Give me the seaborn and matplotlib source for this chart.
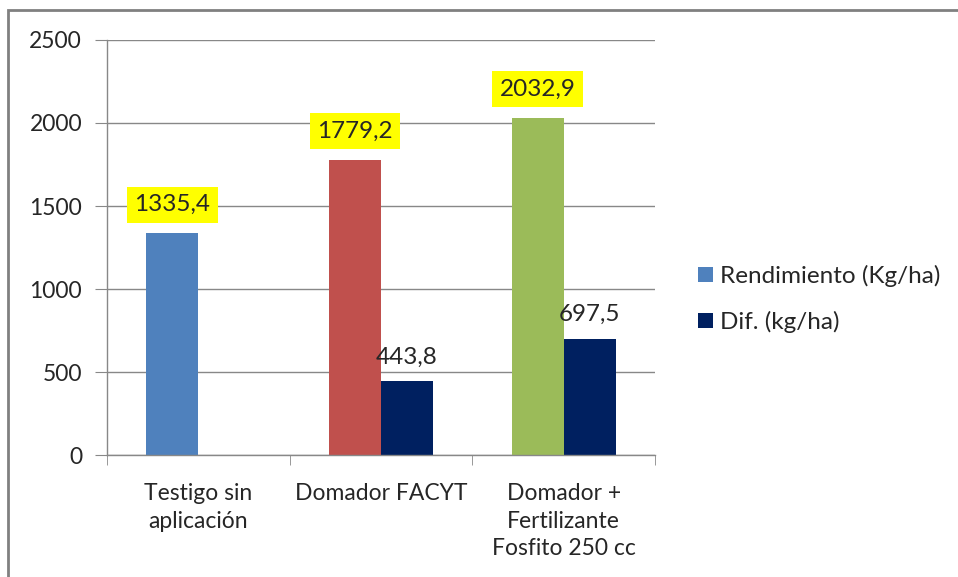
import pandas as pd
import matplotlib.pyplot as plt
import seaborn as sns
from matplotlib.patches import Rectangle

# data
categorias = ["Testigo sin\naplicación", "Domador FACYT", "Domador +\nFertilizante\nFosfito 250 cc"]
rendimiento = [1335.4, 1779.2, 2032.9]
diferencia = [0.0, 443.8, 697.5]
series = ["Rendimiento (Kg/ha)", "Dif. (kg/ha)"]

colores_rend = ["#4F81BD", "#C0504D", "#9BBB59"]
color_dif = "#002060"

df = pd.DataFrame({
    "categoria": categorias * 2,
    "serie": [series[0]] * 3 + [series[1]] * 3,
    "valor": rendimiento + diferencia,
})

sns.set_style("white")
plt.rcParams["font.family"] = ["Lato", "DejaVu Sans"]

fig = plt.figure(figsize=(9.58, 5.77), dpi=100)
ax = fig.add_axes([0.1117, 0.2114, 0.572, 0.7193])

sns.barplot(data=df, x="categoria", y="valor", hue="serie", order=categorias,
            hue_order=series, palette=[colores_rend[0], color_dif],
            width=0.57, gap=0, saturation=1, errorbar=None, linewidth=0, ax=ax)

# recolour the first series per category
rend_bars = ax.containers[0]
for bar, c in zip(rend_bars, colores_rend):
    bar.set_facecolor(c)

fmt = lambda v: f"{v:.1f}".replace(".", ",")
ax.bar_label(rend_bars, labels=[fmt(v) for v in rendimiento], padding=13, fontsize=17.5,
             bbox=dict(boxstyle="square,pad=0.3", fc="#FFFF00", ec="none"))
ax.bar_label(ax.containers[1], labels=["" if v == 0 else fmt(v) for v in diferencia],
             padding=10, fontsize=17.5)

ax.set_ylim(0, 2500)
ax.set_xlim(-0.5, 2.5)
ax.set_yticks([0, 500, 1000, 1500, 2000, 2500])
ax.yaxis.grid(True, color="#888888", linewidth=1)
ax.set_axisbelow(True)
ax.set_xlabel("")
ax.set_ylabel("")

for s in ["top", "right"]:
    ax.spines[s].set_visible(False)
for s in ["left", "bottom"]:
    ax.spines[s].set_color("#888888")
    ax.spines[s].set_linewidth(1)

ax.tick_params(axis="y", length=9, color="#888888", labelsize=16.5, pad=9, left=True)
ax.set_xticks([-0.5, 0.5, 1.5, 2.5], minor=True)
ax.tick_params(axis="x", which="minor", length=7, color="#888888", bottom=True)
ax.tick_params(axis="x", which="major", length=0, labelsize=16.5, pad=20)
for lab in ax.get_xticklabels():
    lab.set_multialignment("center")
    lab.set_linespacing(1.4)

ax.legend(loc="center left", bbox_to_anchor=(1.0785, 0.376), frameon=False, fontsize=17.5,
          borderaxespad=0, borderpad=0, handlelength=0.6, handleheight=0.6,
          handletextpad=0.3, labelspacing=1.0)

# outer chart frame
fig.patches.append(Rectangle((8 / 958, -0.1), 1.2, 1 - 10 / 577 + 0.1,
                             transform=fig.transFigure, fill=False,
                             edgecolor="#808080", linewidth=2))

fig.savefig("out.png", dpi=100)
